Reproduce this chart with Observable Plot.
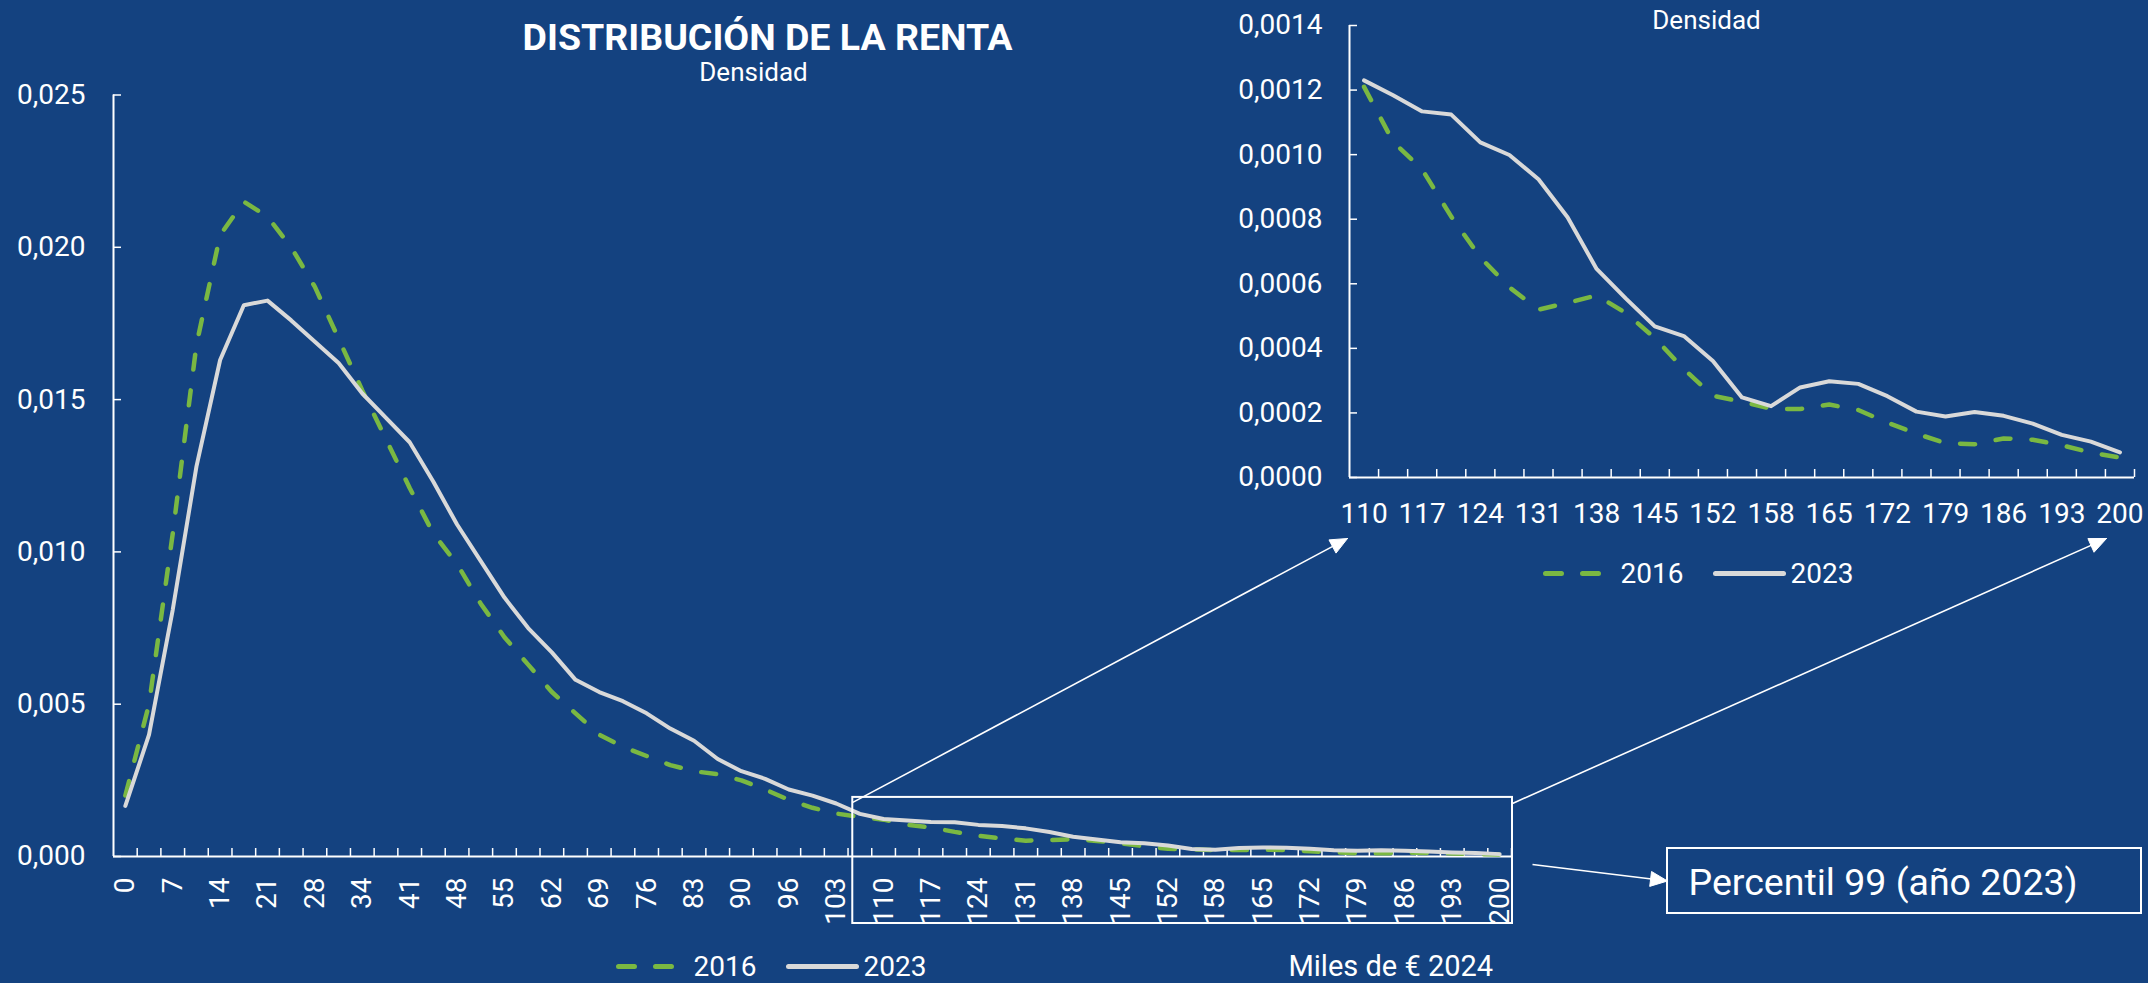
<!DOCTYPE html>
<html>
<head>
<meta charset="utf-8">
<script src="https://cdn.jsdelivr.net/npm/d3@7"></script>
<script src="https://cdn.jsdelivr.net/npm/@observablehq/plot@0.6"></script>
<style>
html, body { margin: 0; padding: 0; background: #144280; }
#chart { position: relative; width: 2148px; height: 983px; background: #144280; overflow: hidden; font-family: Roboto, sans-serif; }
#chart svg { position: absolute; left: 0; top: 0; max-width: none; }
</style>
</head>
<body>
<div id="chart"></div>
<script>
// ---------- data ----------
const tickLabels = ["0","7","14","21","28","34","41","48","55","62","69","76","83","90","96",
  "103","110","117","124","131","138","145","152","158","165","172","179","186","193","200"];

const dens2016 = [
  0.0020, 0.0050, 0.0106, 0.0168, 0.0204, 0.0215, 0.0210, 0.0200, 0.0187, 0.0170,
  0.0153, 0.0137, 0.0121, 0.0106, 0.0096, 0.0083, 0.0072, 0.0063, 0.0054, 0.0047,
  0.0040, 0.0036, 0.0033, 0.0030, 0.0028, 0.0027, 0.0025, 0.0022, 0.00186, 0.0016,
  0.00141, 0.0013,
  0.00121, 0.00104, 0.000954, 0.000808, 0.000682, 0.000589, 0.000520, 0.000541, 0.000564, 0.000510,
  0.000432, 0.000336, 0.000253, 0.000235, 0.000213, 0.000212, 0.000226, 0.000209, 0.000170, 0.000136,
  0.000106, 0.000103, 0.000121, 0.000117, 0.000100, 0.000077, 0.000062
];

const dens2023 = [
  0.00166, 0.0040, 0.0081, 0.0128, 0.0163, 0.0181, 0.01825, 0.0176, 0.0169, 0.0162,
  0.0152, 0.0144, 0.0136, 0.0123, 0.0109, 0.0097, 0.0085, 0.0075, 0.0067, 0.0058,
  0.0054, 0.0051, 0.0047, 0.0042, 0.0038, 0.0032, 0.0028, 0.00255, 0.0022, 0.0020,
  0.00174, 0.0014,
  0.00123, 0.001184, 0.001134, 0.001124, 0.001038, 0.000999, 0.000924, 0.000806, 0.000646, 0.000555,
  0.000468, 0.000438, 0.000361, 0.000248, 0.000221, 0.000279, 0.000298, 0.000290, 0.000252, 0.000204,
  0.000189, 0.000203, 0.000191, 0.000167, 0.000132, 0.000111, 0.000078
];

const insetStart = 32;            // category index of "110"
const yTicksMain = [0, 0.005, 0.010, 0.015, 0.020, 0.025];
const yTicksInset = [0, 0.0002, 0.0004, 0.0006, 0.0008, 0.0010, 0.0012, 0.0014];
const seriesNames = ["2016", "2023"];

// ---------- styling ----------
const W = 2148, H = 983;
const GREEN = "#7ab842", GREY = "#d9d9d9", WHITE = "#ffffff";
const FONT = "Roboto, sans-serif";
const loc = d3.formatLocale({decimal: ",", thousands: ".", grouping: [3], currency: ["", " €"]});
const f3 = loc.format(".3f"), f4 = loc.format(".4f");
const baseStyle = {background: "transparent", color: WHITE, fontFamily: FONT, overflow: "visible"};
const dashStyle = {stroke: GREEN, strokeWidth: 4.5, strokeDasharray: "15,21", strokeLinecap: "round", strokeLinejoin: "round"};
const solidStyle = {stroke: GREY, strokeWidth: 4, strokeLinejoin: "round", strokeLinecap: "round"};

const root = document.getElementById("chart");

// ---------- main chart ----------
const n = dens2016.length;
const M = {left: 113, right: 1511, top: 94.5, bottom: 856};
const main = Plot.plot({
  width: W, height: H,
  marginLeft: M.left, marginRight: W - M.right, marginTop: M.top, marginBottom: H - M.bottom,
  x: {type: "linear", domain: [-0.5, n - 0.5]},
  y: {type: "linear", domain: [0, 0.025]},
  style: baseStyle,
  marks: [
    Plot.tickX(d3.range(n).map(i => i + 0.5), {x: d => d, stroke: WHITE, strokeWidth: 1.5, insetTop: (M.bottom - M.top) - 8}),
    Plot.tickY(yTicksMain, {y: d => d, stroke: WHITE, strokeWidth: 1.5, insetRight: (M.right - M.left) - 8}),
    Plot.ruleY([0], {stroke: WHITE, strokeWidth: 2}),
    Plot.ruleX([-0.5], {stroke: WHITE, strokeWidth: 2}),
    Plot.axisX({ticks: d3.range(0, n, 2), tickFormat: i => tickLabels[i / 2], tickRotate: -90,
      tickSize: 0, tickPadding: 21, fontSize: 28, label: null, fill: WHITE}),
    Plot.axisY({ticks: yTicksMain, tickFormat: f3, tickSize: 0, tickPadding: 28, fontSize: 28, label: null, fill: WHITE}),
    Plot.line(dens2016, {x: (d, i) => i, y: d => d, ...dashStyle}),
    Plot.line(dens2023, {x: (d, i) => i, y: d => d, ...solidStyle})
  ]
});
root.appendChild(main);

// ---------- inset chart ----------
const ins16 = dens2016.slice(insetStart), ins23 = dens2023.slice(insetStart);
const insLabels = tickLabels.slice(insetStart / 2);
const m = ins16.length;
const I = {left: 1349, right: 2134, top: 25, bottom: 477};
const inset = Plot.plot({
  width: W, height: H,
  marginLeft: I.left, marginRight: W - I.right, marginTop: I.top, marginBottom: H - I.bottom,
  x: {type: "linear", domain: [-0.5, m - 0.5]},
  y: {type: "linear", domain: [0, 0.0014]},
  style: baseStyle,
  marks: [
    Plot.tickX(d3.range(m).map(i => i + 0.5), {x: d => d, stroke: WHITE, strokeWidth: 1.5, insetTop: (I.bottom - I.top) - 8}),
    Plot.tickY(yTicksInset, {y: d => d, stroke: WHITE, strokeWidth: 1.5, insetRight: (I.right - I.left) - 8}),
    Plot.ruleY([0], {stroke: WHITE, strokeWidth: 2}),
    Plot.ruleX([-0.5], {stroke: WHITE, strokeWidth: 2}),
    Plot.axisX({ticks: d3.range(0, m, 2), tickFormat: i => insLabels[i / 2],
      tickSize: 0, tickPadding: 26, fontSize: 28, label: null, fill: WHITE}),
    Plot.axisY({ticks: yTicksInset, tickFormat: f4, tickSize: 0, tickPadding: 27, fontSize: 28, label: null, fill: WHITE}),
    Plot.line(ins16, {x: (d, i) => i, y: d => d, ...dashStyle}),
    Plot.line(ins23, {x: (d, i) => i, y: d => d, ...solidStyle})
  ]
});
root.appendChild(inset);

// ---------- annotations (positions derived from the two charts' scales) ----------
const xm = v => main.scale("x").apply(v), ym = v => main.scale("y").apply(v);
const xi = v => inset.scale("x").apply(v), yi = v => inset.scale("y").apply(v);

const box = {x1: xm(30.7), x2: xm(n - 0.5) + 1, y1: ym(0.00194), y2: ym(0) + 67};
const pBox = {x1: box.x2 + 155, x2: W - 7, y1: ym(0) - 8, y2: ym(0) + 57};
const arrows = [
  {x1: box.x1, y1: box.y1 + 5, x2: xi(-0.5) - 2, y2: yi(0) + 61},
  {x1: box.x2, y1: box.y1 + 6, x2: xi(m - 0.5) - 28, y2: yi(0) + 61},
  {x1: box.x2 + 20, y1: ym(0) + 8, x2: pBox.x1, y2: (pBox.y1 + pBox.y2) / 2}
];
const heads = arrows.flatMap((a, k) => {
  const dx = a.x2 - a.x1, dy = a.y2 - a.y1, L = Math.hypot(dx, dy);
  const ux = dx / L, uy = dy / L, len = 17, hw = 7.5;
  const bx = a.x2 - ux * len, by = a.y2 - uy * len;
  return [
    {k, x: a.x2, y: a.y2},
    {k, x: bx - uy * hw, y: by + ux * hw},
    {k, x: bx + uy * hw, y: by - ux * hw},
    {k, x: a.x2, y: a.y2}
  ];
});
const shaft = arrows.map(a => {
  const dx = a.x2 - a.x1, dy = a.y2 - a.y1, L = Math.hypot(dx, dy);
  return {...a, x2: a.x2 - dx / L * 12, y2: a.y2 - dy / L * 12};
});

// legends
const mainLeg = {y: ym(0) + 110, x: 616};
const insLeg = {y: yi(0) + 96, x: 1543};
function legendMarks(L) {
  return [
    Plot.link([{x1: L.x + 2, x2: L.x + 55}], {x1: "x1", x2: "x2", y1: () => L.y, y2: () => L.y,
      stroke: GREEN, strokeWidth: 5, strokeDasharray: "16,21", strokeLinecap: "round"}),
    Plot.text([seriesNames[0]], {x: () => L.x + 77, y: () => L.y + 9, text: d => d, textAnchor: "start",
      lineAnchor: "bottom", fontSize: 28, fill: WHITE}),
    Plot.link([{x1: L.x + 172, x2: L.x + 240}], {x1: "x1", x2: "x2", y1: () => L.y, y2: () => L.y,
      stroke: GREY, strokeWidth: 5, strokeLinecap: "round"}),
    Plot.text([seriesNames[1]], {x: () => L.x + 247, y: () => L.y + 9, text: d => d, textAnchor: "start",
      lineAnchor: "bottom", fontSize: 28, fill: WHITE})
  ];
}

const overlay = Plot.plot({
  width: W, height: H, margin: 0,
  x: {type: "identity", axis: null},
  y: {type: "identity", axis: null},
  style: baseStyle,
  marks: [
    Plot.rect([box], {x1: "x1", x2: "x2", y1: "y1", y2: "y2", fill: "none", stroke: WHITE, strokeWidth: 2}),
    Plot.rect([pBox], {x1: "x1", x2: "x2", y1: "y1", y2: "y2", fill: "none", stroke: WHITE, strokeWidth: 2}),
    Plot.link(shaft, {x1: "x1", y1: "y1", x2: "x2", y2: "y2", stroke: WHITE, strokeWidth: 1.6}),
    Plot.line(heads, {x: "x", y: "y", z: "k", fill: WHITE, stroke: WHITE, strokeWidth: 1}),
    Plot.text(["Percentil 99 (año 2023)"], {x: () => pBox.x1 + 21, y: () => pBox.y1 + 46, text: d => d,
      textAnchor: "start", lineAnchor: "bottom", fontSize: 37.5, fill: WHITE}),
    Plot.text(["DISTRIBUCIÓN DE LA RENTA"], {x: () => 767, y: () => 37.5, text: d => d,
      fontSize: 37.5, fontWeight: "bold", fill: WHITE}),
    Plot.text(["Densidad"], {x: () => 753, y: () => 72.5, text: d => d, fontSize: 26, fill: WHITE}),
    Plot.text(["Densidad"], {x: () => 1706, y: () => 20, text: d => d, fontSize: 26, fill: WHITE}),
    Plot.text(["Miles de € 2024"], {x: () => 1288, y: () => 975, text: d => d, textAnchor: "start",
      lineAnchor: "bottom", fontSize: 29, fill: WHITE}),
    ...legendMarks(mainLeg),
    ...legendMarks(insLeg)
  ]
});
root.appendChild(overlay);
</script>
</body>
</html>
